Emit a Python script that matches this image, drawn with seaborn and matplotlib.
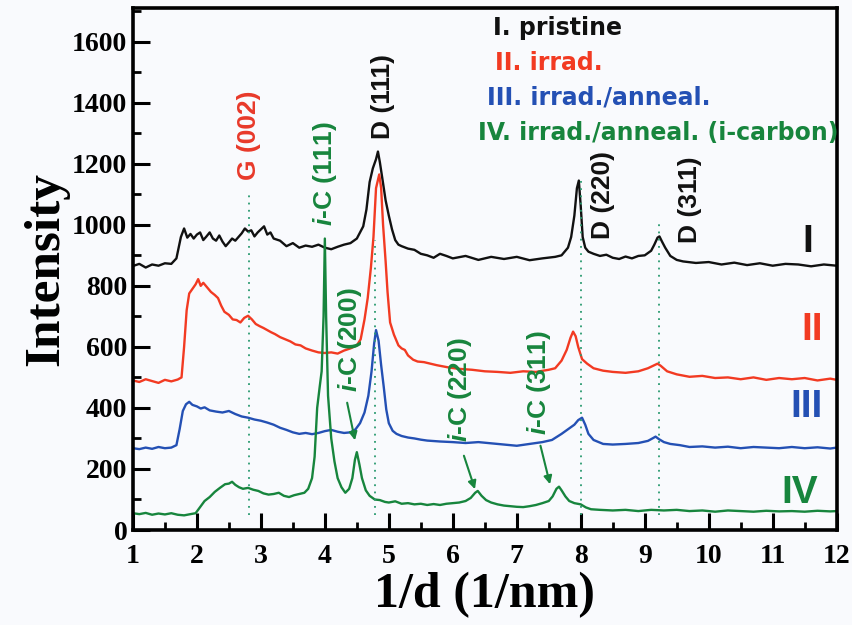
import matplotlib
matplotlib.use('Agg')
import matplotlib.pyplot as plt
import seaborn as sns
from matplotlib.ticker import MultipleLocator

# curve I - pristine
x1 = [1.0, 1.1, 1.2, 1.3, 1.4, 1.5, 1.6, 1.68, 1.75, 1.8, 1.85, 1.9, 1.95, 2.0, 2.05, 2.1, 2.15, 2.2, 2.25, 2.3,
      2.35, 2.4, 2.45, 2.5, 2.55, 2.6, 2.65, 2.7, 2.75, 2.8, 2.85, 2.9, 2.95, 3.0, 3.05, 3.1, 3.15, 3.2, 3.3, 3.4,
      3.5, 3.6, 3.7, 3.8, 3.9, 4.0, 4.1, 4.2, 4.3, 4.4, 4.5, 4.55, 4.6, 4.65, 4.7, 4.75, 4.8, 4.83, 4.86, 4.9,
      4.95, 5.0, 5.05, 5.1, 5.15, 5.2, 5.3, 5.4, 5.5, 5.6, 5.7, 5.8, 5.9, 6.0, 6.2, 6.4, 6.6, 6.8, 7.0, 7.2,
      7.4, 7.6, 7.7, 7.8, 7.85, 7.9, 7.94, 7.97, 8.0, 8.03, 8.07, 8.12, 8.2, 8.3, 8.4, 8.5, 8.6, 8.7, 8.8, 8.9,
      9.0, 9.1, 9.15, 9.2, 9.23, 9.27, 9.32, 9.4, 9.5, 9.6, 9.8, 10.0, 10.2, 10.4, 10.6, 10.8, 11.0, 11.2, 11.4,
      11.6, 11.8, 12.0]
y1 = [865, 872, 860, 870, 866, 874, 872, 890, 960, 988, 958, 970, 955, 968, 975, 950, 962, 975, 955, 948,
      965, 945, 930, 942, 955, 948, 960, 972, 988, 978, 982, 962, 975, 985, 995, 968, 975, 955, 948, 930,
      940, 925, 932, 928, 935, 925, 920, 928, 935, 940, 955, 975, 995, 1050, 1140, 1185, 1215, 1240, 1205, 1150,
      1080, 1030, 985, 950, 935, 930, 922, 918, 905, 900, 892, 905, 898, 890, 898, 885, 895, 888, 895, 884,
      890, 895, 900, 925, 960, 1030, 1120, 1145, 1060, 960, 925, 912, 905, 898, 902, 892, 888, 896, 890, 898,
      900, 915, 935, 958, 962, 945, 925, 898, 885, 880, 875, 878, 870, 876, 868, 874, 866, 872, 870,
      864, 870, 866]

# curve II - irrad.
x2 = [1.0, 1.1, 1.2, 1.3, 1.4, 1.5, 1.6, 1.7, 1.76, 1.8, 1.84, 1.88, 1.93, 1.98, 2.02, 2.06, 2.1, 2.16, 2.22, 2.28,
      2.33, 2.38, 2.43, 2.5, 2.56, 2.62, 2.68, 2.74, 2.8, 2.86, 2.92, 2.98, 3.04, 3.1, 3.16, 3.22, 3.3, 3.38, 3.46, 3.54,
      3.62, 3.7, 3.8, 3.9, 4.0, 4.1, 4.2, 4.3, 4.4, 4.5, 4.56, 4.62, 4.67, 4.72, 4.76, 4.8, 4.85, 4.88, 4.91, 4.95,
      4.98, 5.02, 5.08, 5.15, 5.2, 5.25, 5.3, 5.38, 5.45, 5.55, 5.65, 5.75, 5.85, 5.95, 6.1, 6.3, 6.5, 6.7, 6.9, 7.1,
      7.3, 7.5, 7.6, 7.7, 7.78, 7.84, 7.88, 7.92, 7.96, 8.02, 8.1, 8.2, 8.35, 8.5, 8.7, 8.9, 9.05, 9.15, 9.2, 9.25,
      9.35, 9.5, 9.7, 9.9, 10.1, 10.3, 10.5, 10.7, 10.9, 11.1, 11.3, 11.5, 11.7, 11.9, 12.0]
y2 = [490, 485, 494, 488, 482, 492, 487, 493, 500, 600, 720, 775, 790, 805, 822, 800, 810, 795, 780, 770,
      760, 735, 715, 705, 690, 688, 680, 695, 702, 690, 675, 668, 662, 655, 648, 642, 632, 625, 618, 608,
      605, 595, 588, 582, 580, 582, 578, 588, 595, 605, 625, 690, 760, 860, 960, 1120, 1165, 1120, 1000, 880,
      780, 680, 640, 605, 595, 590, 572, 558, 552, 550, 545, 540, 536, 532, 528, 525, 520, 518, 515, 520,
      518, 525, 530, 555, 590, 630, 650, 635, 600, 560, 545, 530, 522, 518, 515, 520, 530, 540, 545, 538,
      520, 510, 502, 505, 498, 500, 494, 500, 492, 498, 494, 498, 490, 496, 492]

# curve III - irrad./anneal.
x3 = [1.0, 1.1, 1.2, 1.3, 1.4, 1.5, 1.6, 1.68, 1.73, 1.78, 1.83, 1.88, 1.93, 2.0, 2.06, 2.12, 2.2, 2.3, 2.4, 2.5,
      2.6, 2.7, 2.8, 2.9, 3.0, 3.1, 3.2, 3.3, 3.4, 3.5, 3.6, 3.7, 3.8, 3.9, 4.0, 4.1, 4.2, 4.3, 4.4, 4.48,
      4.55, 4.62, 4.68, 4.73, 4.77, 4.8, 4.84, 4.88, 4.92, 4.96, 5.0, 5.06, 5.12, 5.2, 5.3, 5.4, 5.5, 5.6, 5.8, 6.0,
      6.2, 6.4, 6.6, 6.8, 7.0, 7.2, 7.4, 7.55, 7.7, 7.8, 7.9, 7.96, 8.02, 8.07, 8.12, 8.2, 8.35, 8.5, 8.7, 8.9,
      9.05, 9.12, 9.17, 9.22, 9.3, 9.4, 9.55, 9.7, 9.9, 10.1, 10.3, 10.5, 10.7, 10.9, 11.1, 11.3, 11.5, 11.7, 11.9, 12.0]
y3 = [268, 265, 270, 266, 272, 268, 270, 278, 330, 390, 412, 420, 410, 405, 398, 402, 392, 388, 385, 390,
      380, 372, 368, 362, 358, 352, 345, 335, 328, 320, 315, 318, 314, 318, 324, 328, 322, 318, 320, 330,
      350, 385, 440, 520, 610, 655, 620, 540, 470, 395, 350, 325, 315, 308, 303, 300, 296, 293, 290, 288,
      285, 288, 284, 280, 276, 282, 288, 295, 315, 330, 345, 360, 368, 345, 315, 295, 282, 280, 282, 285,
      292, 300, 306, 298, 288, 282, 278, 272, 274, 270, 273, 268, 272, 270, 268, 272, 268, 271, 267, 270]

# curve IV - irrad./anneal. (i-carbon)
x4 = [1.0, 1.1, 1.2, 1.3, 1.4, 1.5, 1.6, 1.7, 1.8, 1.9, 1.98, 2.05, 2.12, 2.2, 2.28, 2.36, 2.44, 2.5, 2.55, 2.6,
      2.66, 2.72, 2.8, 2.88, 2.96, 3.04, 3.12, 3.2, 3.28, 3.36, 3.44, 3.52, 3.6, 3.68, 3.74, 3.8, 3.84, 3.88, 3.92, 3.95,
      3.98, 4.0, 4.02, 4.05, 4.1, 4.15, 4.2, 4.26, 4.32, 4.38, 4.43, 4.47, 4.5, 4.54, 4.58, 4.64, 4.7, 4.78, 4.86, 4.94,
      5.0, 5.1, 5.2, 5.3, 5.4, 5.5, 5.6, 5.7, 5.8, 5.9, 6.0, 6.1, 6.2, 6.28, 6.35, 6.39, 6.45, 6.52, 6.6, 6.7,
      6.8, 6.9, 7.0, 7.1, 7.2, 7.3, 7.4, 7.5, 7.56, 7.62, 7.66, 7.7, 7.76, 7.82, 7.9, 8.0, 8.08, 8.16, 8.3, 8.5,
      8.7, 8.9, 9.1, 9.3, 9.5, 9.7, 9.9, 10.1, 10.3, 10.5, 10.7, 10.9, 11.1, 11.3, 11.5, 11.7, 11.9, 12.0]
y4 = [55, 52, 56, 50, 54, 51, 55, 50, 48, 52, 55, 75, 95, 108, 125, 138, 150, 152, 158, 148,
      140, 135, 138, 132, 128, 120, 116, 118, 122, 112, 108, 114, 118, 122, 135, 170, 240, 400, 470, 520,
      700, 955, 700, 440, 300, 225, 170, 140, 122, 135, 170, 230, 255, 215, 170, 130, 112, 100, 98, 92,
      90, 94, 86, 88, 84, 86, 82, 85, 82, 86, 88, 90, 95, 105, 122, 128, 112, 98, 90, 84,
      80, 78, 76, 75, 78, 82, 88, 95, 110, 135, 142, 130, 110, 95, 88, 84, 74, 68, 66, 64,
      66, 62, 66, 64, 66, 62, 64, 60, 64, 62, 60, 63, 61, 62, 60, 63, 61, 62]

curve_colors = ['#111111', '#f23a22', '#2450b4', '#17853d']
curve_tags = ['I', 'II', 'III', 'IV']
tag_x = [11.55, 11.61, 11.53, 11.42]
tag_y = [944, 656, 403, 121]

legend_lines = ['I. pristine', 'II. irrad.', 'III. irrad./anneal.', 'IV. irrad./anneal. (i-carbon)']
legend_x = [6.625, 6.66, 6.53, 6.39]
legend_y = [1646, 1531, 1417, 1302]

# diamond / graphite reference lines
ref_x = [2.81, 4.79, 8.0, 9.22]
ref_top = [1115, 950, 1148, 1003]

peak_labels = ['G (002)', 'D (111)', 'D (220)', 'D (311)',
               '$i$-C (111)', '$i$-C (200)', '$i$-C (220)', '$i$-C (311)']
peak_x = [2.81, 4.91, 8.34, 9.70, 4.0, 4.39, 6.11, 7.34]
peak_y = [1295, 1420, 1098, 1082, 1167, 623, 459, 482]
peak_colors = ['#e8392a', '#111111', '#111111', '#111111', '#17853d', '#17853d', '#17853d', '#17853d']

# arrows from i-C labels to peaks
arrow_start = [(4.34, 426), (6.16, 252), (7.36, 285)]
arrow_end = [(4.48, 285), (6.36, 125), (7.53, 141)]

sns.set_theme(style='ticks')
plt.rcParams['font.family'] = ['Liberation Serif', 'DejaVu Serif']
plt.rcParams['font.weight'] = 'bold'
plt.rcParams['mathtext.fontset'] = 'custom'
plt.rcParams['mathtext.it'] = 'Liberation Sans:italic:bold'
plt.rcParams['mathtext.rm'] = 'Liberation Sans:bold'

fig = plt.figure(figsize=(8.52, 6.25), dpi=100)
fig.patch.set_facecolor('#f9fafd')
ax = fig.add_axes([0.156, 0.152, 0.826, 0.835])
ax.set_facecolor('#f9fafd')

for xs, ys, c in zip([x1, x2, x3, x4], [y1, y2, y3, y4], curve_colors):
    sns.lineplot(x=xs, y=ys, color=c, lw=1.7, ax=ax, sort=False)

for xr, top in zip(ref_x, ref_top):
    ax.vlines(xr, 50, top, colors='#2a9a70', linestyles=(0, (1, 3)), lw=1.3)

sans = ['Liberation Sans', 'DejaVu Sans']
for t, xx, yy, c in zip(peak_labels, peak_x, peak_y, peak_colors):
    ax.text(xx, yy, t, rotation=90, ha='center', va='center', color=c,
            fontsize=19, fontweight='bold', family=sans)

for (xs, ys), (xe, ye) in zip(arrow_start, arrow_end):
    ax.annotate('', xy=(xe, ye), xytext=(xs, ys),
                arrowprops=dict(arrowstyle='-|>', color='#17853d', lw=1.5, mutation_scale=12))

for t, xx, yy, c in zip(curve_tags, tag_x, tag_y, curve_colors):
    ax.text(xx, yy, t, ha='center', va='center', color=c, fontsize=28,
            fontweight='bold', family=sans)

for t, xx, yy, c in zip(legend_lines, legend_x, legend_y, curve_colors):
    ax.text(xx, yy, t, ha='left', va='center', color=c, fontsize=17,
            fontweight='bold', family=['DejaVu Sans'])

ax.set_xlim(1, 12)
ax.set_ylim(0, 1710)
ax.xaxis.set_major_locator(MultipleLocator(1))
ax.xaxis.set_minor_locator(MultipleLocator(0.5))
ax.yaxis.set_major_locator(MultipleLocator(200))
ax.yaxis.set_minor_locator(MultipleLocator(100))
ax.tick_params(which='major', direction='in', length=12, width=2.2, labelsize=20, pad=10,
               colors='black', labelcolor='black')
ax.tick_params(which='minor', direction='in', length=6, width=2.0, colors='black')
ax.tick_params(axis='y', which='major', pad=4)
for lab in ax.get_xticklabels() + ax.get_yticklabels():
    lab.set_fontweight('bold')
for sp in ax.spines.values():
    sp.set_visible(True)
    sp.set_linewidth(2.6)
    sp.set_color('black')

ax.set_xlabel('1/d (1/nm)', fontsize=36, fontweight='bold', labelpad=2, color='black')
ax.set_ylabel('Intensity', fontsize=37, fontweight='bold', labelpad=2, color='black')

fig.savefig('out.png', dpi=100, facecolor=fig.get_facecolor())
